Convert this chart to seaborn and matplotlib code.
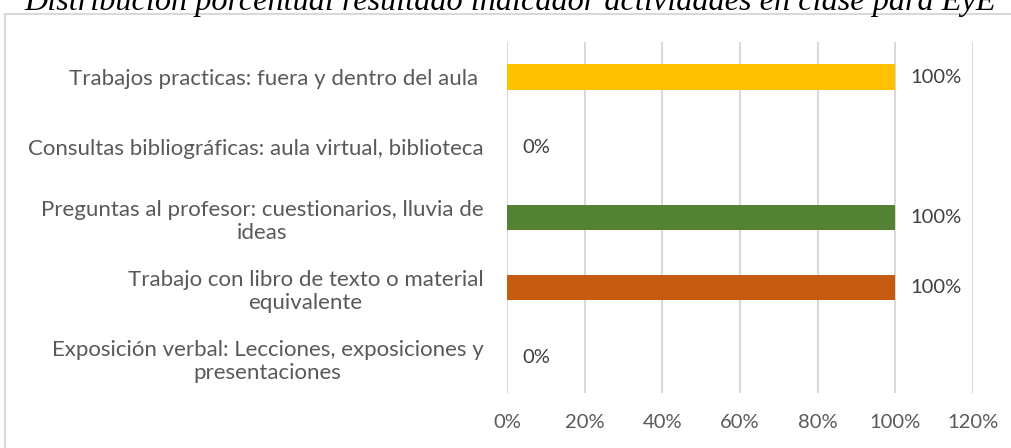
import matplotlib
matplotlib.use("Agg")
import matplotlib.pyplot as plt
import seaborn as sns
import pandas as pd
from matplotlib.patches import Rectangle
from matplotlib.ticker import FuncFormatter

title = "Distribución porcentual resultado indicador actividades en clase para EyE"
categories = [
    "Trabajos practicas: fuera y dentro del aula ",
    "Consultas bibliográficas: aula virtual, biblioteca",
    "Preguntas al profesor: cuestionarios, lluvia de\nideas",
    "Trabajo con libro de texto o material\nequivalente",
    "Exposición verbal: Lecciones, exposiciones y\npresentaciones",
]
values = [1.0, 0.0, 1.0, 1.0, 0.0]
colors = ["#FFC000", "#5B9BD5", "#548235", "#C55A11", "#A5A5A5"]
xticks = [0, 0.2, 0.4, 0.6, 0.8, 1.0, 1.2]

sns.set_theme(style="white")
plt.rcParams['font.family'] = ['Lato', 'DejaVu Sans']

W, H = 1011, 448
fig = plt.figure(figsize=(W / 100, H / 100), dpi=100)
ax = fig.add_axes([507 / W, 1 - 393 / H, (973 - 507) / W, (393 - 42) / H])

df = pd.DataFrame({"cat": categories, "val": values})
sns.barplot(data=df, x="val", y="cat", hue="cat", palette=colors, orient="h",
            width=0.36, legend=False, ax=ax, saturation=1, linewidth=0)

ax.set_xlim(0, 1.2)
ax.set_xticks(xticks)
ax.xaxis.set_major_formatter(FuncFormatter(lambda v, p: f"{v*100:.0f}%"))
ax.grid(axis="x", color="#D9D9D9", linewidth=1.5)
ax.grid(axis="y", visible=False)
ax.set_axisbelow(True)
for s in ax.spines.values():
    s.set_visible(False)
ax.set_xlabel("")
ax.set_ylabel("")
ax.tick_params(axis="x", length=0, pad=15, labelsize=14.5, labelcolor="#595959")
ax.tick_params(axis="y", length=0, pad=17, labelsize=16, labelcolor="#595959")
for lab in ax.get_yticklabels():
    lab.set_multialignment("center")

for i, v in enumerate(values):
    ax.annotate(f"{v*100:.0f}%", xy=(v, i), xytext=(15, 0), textcoords="offset pixels",
                ha="left", va="center", fontsize=14.5, color="#404040")

# outer chart border
fig.patches.append(Rectangle((5 / W, -0.1), 1.1, 1 - 14 / H + 0.1,
                             transform=fig.transFigure, fill=False,
                             edgecolor="#D9D9D9", linewidth=1.5))

fig.text(510 / W, 1 - 10 / H, title, ha="center", va="baseline",
         fontsize=23.2, style="italic", family=["Liberation Serif", "DejaVu Serif"],
         color="black")

fig.savefig("out.png", dpi=100)
